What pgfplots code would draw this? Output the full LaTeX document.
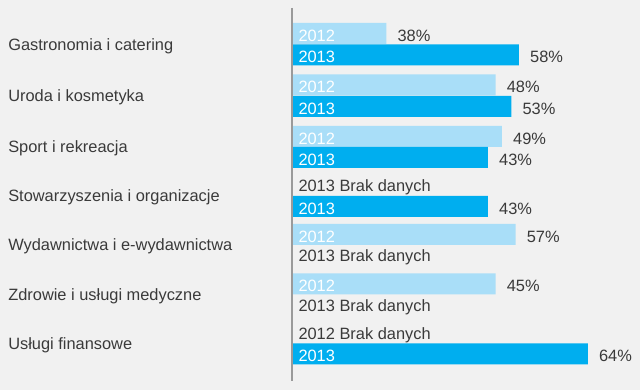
\documentclass[border=0pt]{standalone}
\usepackage{fontspec}
\setmainfont{Liberation Sans}
\usepackage{pgfplots}
\usepackage{pgfplotstable}
\pgfplotsset{compat=1.18}
\definecolor{bg}{HTML}{F1F1F1}
\definecolor{c12}{HTML}{A9DEF8}
\definecolor{c13}{HTML}{00AEEF}
\definecolor{txt}{HTML}{3A3A3A}
\definecolor{axl}{HTML}{9A9A9A}

% y = bar centre (px from top), len = drawn bar length (px), pct = label value
\pgfplotstableread{
y len pct
33.5 93.7 38
85 203 48
136.3 209.3 49
234.5 223 57
284 203 45
}\tA
\pgfplotstableread{
y len pct
55 226.3 58
106.5 218.7 53
157.5 195.3 43
206.5 195.3 43
354 295.3 64
}\tB

\begin{document}
\fontsize{16.4pt}{19pt}\selectfont
\begin{tikzpicture}
\fill[bg] (0,0) rectangle (640pt,390pt);
\begin{axis}[at={(0pt,0pt)}, anchor=south west, scale only axis,
  width=640pt, height=390pt,
  xmin=-292.7, xmax=347.3, ymin=0, ymax=390, y dir=reverse,
  axis line style={draw=none}, major tick length=0pt, xtick=\empty,
  ytick={44.3,95.8,146.9,196,245,294.5,343.5},
  yticklabels={Gastronomia i catering, Uroda i kosmetyka, Sport i rekreacja,
    Stowarzyszenia i organizacje, Wydawnictwa i e-wydawnictwa,
    Zdrowie i usługi medyczne, Usługi finansowe},
  yticklabel style={anchor=base west, inner sep=0pt, xshift=8pt, yshift=-6pt, text=txt},
  clip=false,
]
\addplot[xbar, bar shift=0pt, bar width=21, fill=c12, draw=none,
  point meta=explicit symbolic, nodes near coords={\pgfplotspointmeta\%},
  every node near coord/.append style={anchor=base west, inner sep=0pt, xshift=11pt, yshift=-8pt, text=txt}]
  table[x=len, y=y, meta=pct] {\tA};
\addplot[xbar, bar shift=0pt, bar width=21, fill=c13, draw=none,
  point meta=explicit symbolic, nodes near coords={\pgfplotspointmeta\%},
  every node near coord/.append style={anchor=base west, inner sep=0pt, xshift=11pt, yshift=-8pt, text=txt}]
  table[x=len, y=y, meta=pct] {\tB};

\begin{scope}[every node/.style={anchor=base west, inner sep=0pt}]
\node[text=white] at ([xshift=5.6pt,yshift=-8pt]axis cs:0,33.5) {2012};
\node[text=white] at ([xshift=5.6pt,yshift=-8pt]axis cs:0,55) {2013};
\node[text=white] at ([xshift=5.6pt,yshift=-8pt]axis cs:0,85) {2012};
\node[text=white] at ([xshift=5.6pt,yshift=-8pt]axis cs:0,106.5) {2013};
\node[text=white] at ([xshift=5.6pt,yshift=-8pt]axis cs:0,136.3) {2012};
\node[text=white] at ([xshift=5.6pt,yshift=-8pt]axis cs:0,157.5) {2013};
\node[text=white] at ([xshift=5.6pt,yshift=-8pt]axis cs:0,206.5) {2013};
\node[text=white] at ([xshift=5.6pt,yshift=-8pt]axis cs:0,234.5) {2012};
\node[text=white] at ([xshift=5.6pt,yshift=-8pt]axis cs:0,284) {2012};
\node[text=white] at ([xshift=5.6pt,yshift=-8pt]axis cs:0,354) {2013};
\node[text=txt] at ([xshift=5.6pt,yshift=-6.3pt]axis cs:0,185.5) {2013 Brak danych};
\node[text=txt] at ([xshift=5.6pt,yshift=-6.3pt]axis cs:0,255.5) {2013 Brak danych};
\node[text=txt] at ([xshift=5.6pt,yshift=-6.3pt]axis cs:0,305) {2013 Brak danych};
\node[text=txt] at ([xshift=5.6pt,yshift=-6.3pt]axis cs:0,333) {2012 Brak danych};
\end{scope}
\draw[axl, line width=1.6pt] (axis cs:-1,8) -- (axis cs:-1,381);
\end{axis}
\end{tikzpicture}
\end{document}
